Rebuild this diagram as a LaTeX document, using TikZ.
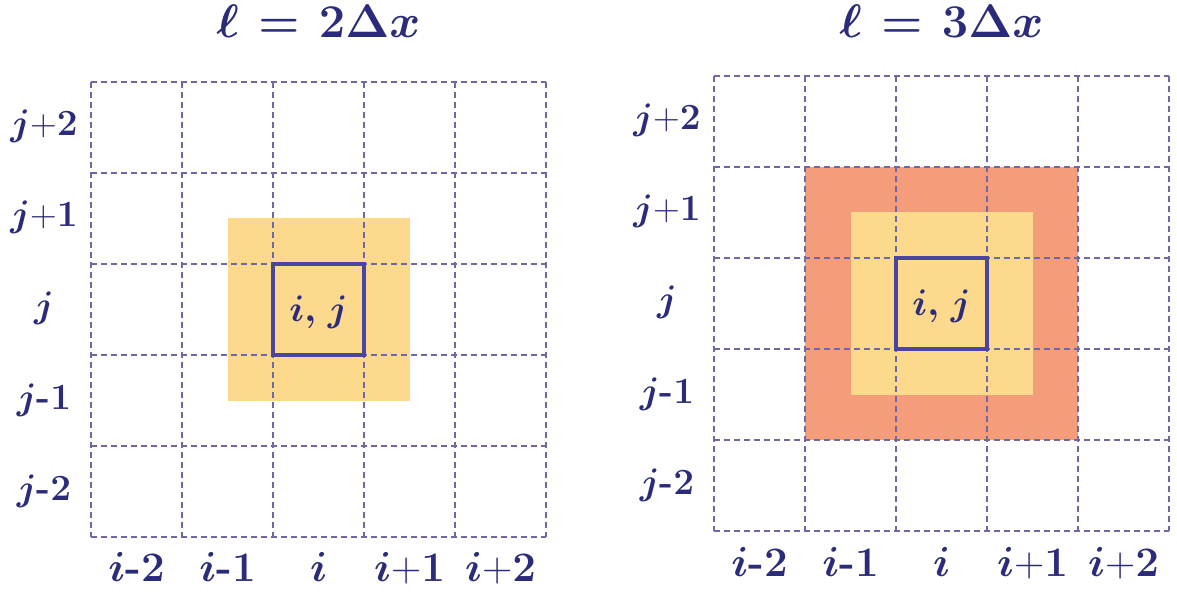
\documentclass[tikz,border=0pt]{standalone}
\usepackage{fix-cm}
\usepackage{amsmath}
\definecolor{navy}{HTML}{2B2B7B}
\definecolor{gridc}{HTML}{6F68A8}
\definecolor{boxc}{HTML}{4A45A0}
\definecolor{yel}{HTML}{FDD98E}
\definecolor{sal}{HTML}{F59D7B}
\newcommand{\pl}{\mbox{\unboldmath$+$}}
\newcommand{\mn}{\mbox{\bfseries -}}
\tikzset{
  gridline/.style={draw=gridc, line width=1.2pt, dash pattern=on 6pt off 4pt},
  cellbox/.style={draw=boxc, line width=3.5pt},
  rowlab/.style={text=navy, anchor=base, inner sep=0pt, font=\fontsize{37}{44}\selectfont\boldmath},
  collab/.style={text=navy, anchor=base, inner sep=0pt, font=\fontsize{42}{50}\selectfont\boldmath},
  ijlab/.style={text=navy, anchor=base, inner sep=0pt, font=\fontsize{37}{44}\selectfont\boldmath},
  ttl/.style={text=navy, anchor=base, inner sep=0pt, font=\fontsize{47}{56}\selectfont\boldmath},
}
\begin{document}
\begin{tikzpicture}[x=1pt,y=-1pt]
\useasboundingbox (0,0) rectangle (1177,593);
\def\c{91}
% ---------- left panel ----------
\def\xa{91}\def\ya{82}
\fill[yel] (\xa+1.5*\c,\ya+1.5*\c) rectangle (\xa+3.5*\c,\ya+3.5*\c);
\foreach \k in {0,...,5}{
  \draw[gridline] (\xa+\k*\c,\ya) -- (\xa+\k*\c,\ya+5*\c);
  \draw[gridline] (\xa,\ya+\k*\c) -- (\xa+5*\c,\ya+\k*\c);
}
\draw[cellbox] (\xa+2*\c,\ya+2*\c) rectangle (\xa+3*\c,\ya+3*\c);
\node[ijlab] (Lij) at (\xa+2.5*\c,\ya+2.5*\c+12.5) {$i,\mkern2mu j$};
\node[ttl] (Lt) at (\xa+2.5*\c,38) {$\ell\mkern1.5mu=\mkern1.5mu2\Delta x$};
\foreach \t [count=\n from 0] in {{$j$\pl$\mathbf{2}$},{$j$\pl$\mathbf{1}$},{$j$},{$j$\mn$\mathbf{1}$},{$j$\mn$\mathbf{2}$}}{
  \node[rowlab] (Lr\n) at (44,\ya+\n*\c+0.5*\c+8.5) {\t};
}
\foreach \t [count=\n from 0] in {{$i$\mn$\mathbf{2}$},{$i$\mn$\mathbf{1}$},{$i$},{$i$\pl$\mathbf{1}$},{$i$\pl$\mathbf{2}$}}{
  \node[collab] (Lc\n) at (\xa+\n*\c+0.5*\c,581) {\t};
}
% ---------- right panel ----------
\def\xb{714}\def\yb{76}
\fill[sal] (\xb+1*\c,\yb+1*\c) rectangle (\xb+4*\c,\yb+4*\c);
\fill[yel] (\xb+1.5*\c,\yb+1.5*\c) rectangle (\xb+3.5*\c,\yb+3.5*\c);
\foreach \k in {0,...,5}{
  \draw[gridline] (\xb+\k*\c,\yb) -- (\xb+\k*\c,\yb+5*\c);
  \draw[gridline] (\xb,\yb+\k*\c) -- (\xb+5*\c,\yb+\k*\c);
}
\draw[cellbox] (\xb+2*\c,\yb+2*\c) rectangle (\xb+3*\c,\yb+3*\c);
\node[ijlab] (Rij) at (\xb+2.5*\c,\yb+2.5*\c+12.5) {$i,\mkern2mu j$};
\node[ttl] (Rt) at (\xb+2.5*\c,38) {$\ell\mkern1.5mu=\mkern1.5mu3\Delta x$};
\foreach \t [count=\n from 0] in {{$j$\pl$\mathbf{2}$},{$j$\pl$\mathbf{1}$},{$j$},{$j$\mn$\mathbf{1}$},{$j$\mn$\mathbf{2}$}}{
  \node[rowlab] (Rr\n) at (667,\yb+\n*\c+0.5*\c+8.5) {\t};
}
\foreach \t [count=\n from 0] in {{$i$\mn$\mathbf{2}$},{$i$\mn$\mathbf{1}$},{$i$},{$i$\pl$\mathbf{1}$},{$i$\pl$\mathbf{2}$}}{
  \node[collab] (Rc\n) at (\xb+\n*\c+0.5*\c,576) {\t};
}
\end{tikzpicture}
\end{document}
